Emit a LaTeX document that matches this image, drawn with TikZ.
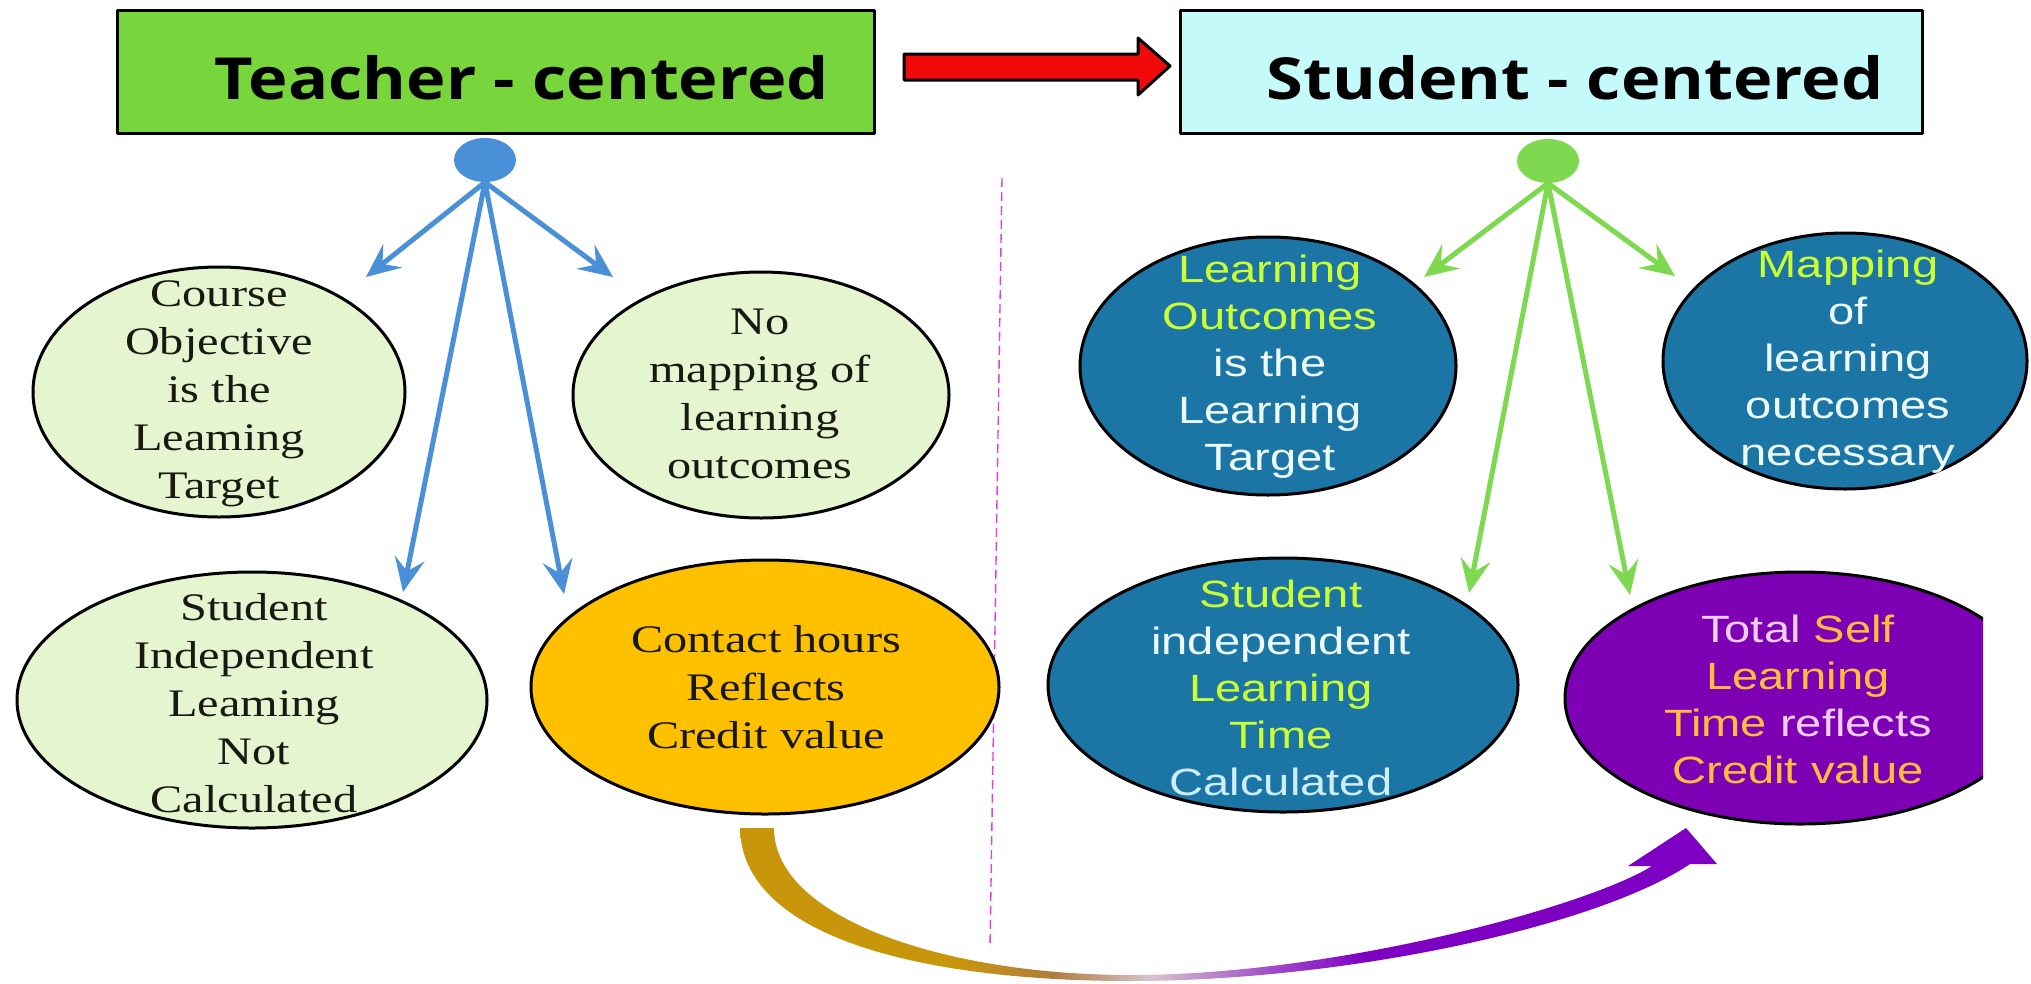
\documentclass[tikz,border=0pt]{standalone}
\usepackage{fontspec}
\usetikzlibrary{arrows.meta,shapes.geometric}
\newfontfamily\titlefont[FakeStretch=1.15]{Open Sans}
\newfontfamily\serifwide[FakeStretch=1.24]{Liberation Serif}
\newfontfamily\sanswide[FakeStretch=1.24]{Liberation Sans}
\definecolor{tgreen}{RGB}{120,214,60}
\definecolor{scyan}{RGB}{196,250,250}
\definecolor{ablue}{RGB}{74,144,217}
\definecolor{agreen}{RGB}{126,217,80}
\definecolor{lgreen}{RGB}{229,245,207}
\definecolor{amber}{RGB}{255,192,0}
\definecolor{eblue}{RGB}{27,117,165}
\definecolor{epurple}{RGB}{125,0,180}
\definecolor{yg}{RGB}{204,255,51}
\definecolor{wt}{RGB}{236,250,255}
\definecolor{ltc}{RGB}{205,238,255}
\definecolor{pnk}{RGB}{242,205,245}
\definecolor{org}{RGB}{255,190,60}
\definecolor{txtdark}{RGB}{25,25,20}
\definecolor{dashm}{RGB}{230,60,230}
\definecolor{redarrow}{RGB}{240,10,10}
\definecolor{arcgold}{RGB}{200,150,10}
\definecolor{arcbrown}{RGB}{175,125,60}
\definecolor{arclight}{RGB}{215,195,205}
\definecolor{arcmauve}{RGB}{160,80,200}
\definecolor{arcpurp}{RGB}{125,0,195}
\pgfdeclarehorizontalshading{arcshade}{100bp}{color(0bp)=(arcgold); color(25bp)=(arcgold); color(36bp)=(arcgold); color(41bp)=(arcbrown); color(46bp)=(arclight); color(52bp)=(arcmauve); color(57bp)=(arcpurp); color(75bp)=(arcpurp); color(100bp)=(arcpurp)}
\tikzset{
  ell/.style={ellipse, draw=black, line width=3pt, inner sep=0pt},
  headbox/.style={rectangle, draw=black, line width=3pt, inner sep=0pt},
  dot/.style={ellipse, inner sep=0pt, minimum width=62pt, minimum height=44pt},
  barrow/.style={draw=ablue, line width=5pt, -{Stealth[length=34pt,width=30pt,inset=13pt]}},
  garrow/.style={draw=agreen, line width=5pt, -{Stealth[length=34pt,width=30pt,inset=13pt]}},
  serift/.style={font={\serifwide\fontsize{39pt}{48pt}\selectfont}, align=center, text=txtdark, inner sep=0pt},
  sanst/.style={font={\sanswide\fontsize{38pt}{47pt}\selectfont}, align=center, text=wt, inner sep=0pt},
  titlet/.style={font={\titlefont\bfseries\fontsize{58pt}{60pt}\selectfont}, text=black, inner sep=0pt}
}
\begin{document}
\begin{tikzpicture}[x=1pt,y=-1pt,line join=round]
\useasboundingbox (0,0) rectangle (2031,983);
\fill[white] (0,0) rectangle (2031,983);

% divider
\draw[dashm, line width=1.4pt, dash pattern=on 9pt off 5pt] (1002,178) -- (990,948);

% header boxes
\node[headbox, fill=tgreen, minimum width=757pt, minimum height=123pt] (tb) at (496,71.5) {};
\node[titlet] (tt) at (522,78) {Teacher - centered};
\node[headbox, fill=scyan, minimum width=742pt, minimum height=123pt] (sb) at (1551,71.5) {};
\node[titlet] (st) at (1575,78) {Student - centered};

% red arrow
\draw[line width=3pt, fill=redarrow] (904,54) -- (1138,54) -- (1138,38) -- (1170,66) -- (1138,95) -- (1138,80) -- (904,80) -- cycle;

% left ellipses
\node[ell, fill=lgreen, minimum width=372pt, minimum height=250pt] (e1) at (219,392) {};
\node[ell, fill=lgreen, minimum width=376pt, minimum height=246pt] (e2) at (761,395) {};
\node[ell, fill=lgreen, minimum width=470pt, minimum height=256pt] (e3) at (252,700) {};
\node[ell, fill=amber, minimum width=468pt, minimum height=254pt] (e4) at (765,687) {};

% right ellipses
\node[ell, fill=eblue, minimum width=376pt, minimum height=258pt] (e5) at (1268,366) {};
\node[ell, fill=eblue, minimum width=364pt, minimum height=256pt] (e6) at (1845,361) {};
\node[ell, fill=eblue, minimum width=470pt, minimum height=254pt] (e7) at (1283,685) {};
\begin{scope}
\clip (0,0) rectangle (1983,983);
\node[ell, fill=epurple, minimum width=470pt, minimum height=252pt] (e8) at (1800,698) {};
\end{scope}

% dots
\node[dot, fill=ablue] (bd) at (485,160) {};
\node[dot, fill=agreen] (gd) at (1548,161) {};

% arrow end points
\coordinate (bl) at (366,277);
\coordinate (br) at (613,277);
\coordinate (bdl) at (403,592);
\coordinate (bdr) at (564,594);
\coordinate (gl) at (1424,277);
\coordinate (gr) at (1675,276);
\coordinate (gdl) at (1469,593);
\coordinate (gdr) at (1630,595);

\draw[barrow] (bd.south) -- (bl);
\draw[barrow] (bd.south) -- (br);
\draw[barrow] (bd.south) -- (bdl);
\draw[barrow] (bd.south) -- (bdr);
\draw[garrow] (gd.south) -- (gl);
\draw[garrow] (gd.south) -- (gr);
\draw[garrow] (gd.south) -- (gdl);
\draw[garrow] (gd.south) -- (gdr);

% texts
\node[serift] (t1) at (219,394) {Course\\Objective\\is the\\Leaming\\Target};
\node[serift] (t2) at (760,394) {No\\mapping of\\learning\\outcomes};
\node[serift] (t3) at (254,703) {Student\\Independent\\Leaming\\Not\\Calculated};
\node[serift] (t4) at (766,687) {Contact hours\\Reflects\\Credit value};
\node[sanst] (t5) at (1270,367) {\textcolor{yg}{Learning}\\\textcolor{yg}{Outcomes}\\is the\\Learning\\Target};
\node[sanst] (t6) at (1848,362) {\textcolor{yg}{Mapping}\\of\\learning\\outcomes\\necessary};
\node[sanst] (t7) at (1281,688) {\textcolor{yg}{Student}\\independent\\\textcolor{yg}{Learning}\\\textcolor{yg}{Time}\\\textcolor{ltc}{Calculated}};
\node[sanst] (t8) at (1798,699) {\textcolor{pnk}{Total} \textcolor{org}{Self}\\\textcolor{org}{Learning}\\\textcolor{org}{Time} \textcolor{pnk}{reflects}\\\textcolor{org}{Credit value}};

% curved gradient arrow from contact hours to total self learning
\shade[shading=arcshade] (740,828) .. controls (742,940) and (930,981) .. (1130,981) .. controls (1350,981) and (1600,925) .. (1690,864) -- (1717,864) -- (1686,828) -- (1628,866) -- (1652,866) .. controls (1590,905) and (1340,975) .. (1130,975) .. controls (950,975) and (774,920) .. (774,828) -- cycle;
\end{tikzpicture}
\end{document}
